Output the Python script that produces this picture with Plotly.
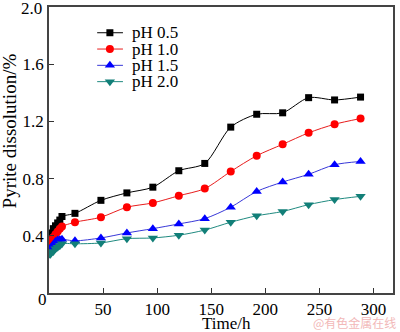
import plotly.graph_objects as go

# Leaching time (h) and pyrite dissolution (%) for each pH
time_h = [1, 2, 4, 6, 8, 10, 12, 24, 48, 72, 96, 120, 144, 168, 192, 216, 240, 264, 288]
ph_05 = [0.40, 0.42, 0.45, 0.47, 0.49, 0.51, 0.535, 0.557, 0.648, 0.70, 0.74, 0.855, 0.906, 1.16, 1.25, 1.26, 1.366, 1.35, 1.37]
ph_10 = [0.36, 0.37, 0.39, 0.41, 0.43, 0.45, 0.465, 0.495, 0.53, 0.60, 0.63, 0.68, 0.73, 0.85, 0.96, 1.04, 1.12, 1.18, 1.22]
ph_15 = [0.31, 0.32, 0.34, 0.36, 0.37, 0.375, 0.376, 0.365, 0.385, 0.42, 0.45, 0.483, 0.52, 0.60, 0.71, 0.776, 0.83, 0.897, 0.92]
ph_20 = [0.27, 0.28, 0.29, 0.31, 0.32, 0.33, 0.345, 0.344, 0.35, 0.38, 0.385, 0.404, 0.44, 0.495, 0.54, 0.57, 0.618, 0.653, 0.676]

series_names = ["pH 0.5", "pH 1.0", "pH 1.5", "pH 2.0"]
x_ticks = [50, 100, 150, 200, 250, 300]
y_ticks = [0.4, 0.8, 1.2, 1.6]
y_tick_text = ["0.4", "0.8", "1.2", "1.6"]
y_top_label = "2.0"

FONT = "Liberation Serif"

styles = [
    dict(line="#000000", marker="#000000", symbol="square", size=7),
    dict(line="#e81c1c", marker="#ff0000", symbol="circle", size=8),
    dict(line="#3838d8", marker="#0000ff", symbol="triangle-up", size=9),
    dict(line="#1f8a80", marker="#127f78", symbol="triangle-down", size=9),
]

# legend key layout, in fractions of the plot area
key_x0, key_xm, key_x1, key_text_x = 0.14, 0.177, 0.215, 0.236
key_rows = [0.910, 0.853, 0.796, 0.739]

fig = go.Figure()
for name, ys, st in zip(series_names, [ph_05, ph_10, ph_15, ph_20], styles):
    fig.add_trace(go.Scatter(
        x=time_h, y=ys, name=name, mode="lines+markers", showlegend=False,
        line=dict(color=st["line"], width=1, shape="spline", smoothing=0.8),
        marker=dict(color=st["marker"], symbol=st["symbol"], size=st["size"],
                    line=dict(width=0)),
    ))

# hand-built legend keys on an overlay axis spanning the plot area
for name, row, st in zip(series_names, key_rows, styles):
    fig.add_trace(go.Scatter(
        x=[key_x0, key_x1], y=[row, row], mode="lines", xaxis="x2", yaxis="y2",
        line=dict(color=st["line"], width=1), showlegend=False, hoverinfo="skip",
    ))
    fig.add_trace(go.Scatter(
        x=[key_xm], y=[row], mode="markers", xaxis="x2", yaxis="y2",
        marker=dict(color=st["marker"], symbol=st["symbol"], size=st["size"],
                    line=dict(width=0)),
        showlegend=False, hoverinfo="skip",
    ))

annotations = [
    dict(text=name, xref="x2", yref="y2", x=key_text_x, y=row, xanchor="left",
         yanchor="middle", showarrow=False, font=dict(family=FONT, size=17))
    for name, row in zip(series_names, key_rows)
]
annotations += [
    dict(text=y_top_label, xref="paper", yref="paper", x=0, y=1,
         xanchor="right", yanchor="middle", xshift=-5, yshift=-1,
         showarrow=False, font=dict(family=FONT, size=17)),
    dict(text="0", xref="paper", yref="paper", x=0, y=0, xanchor="center",
         yanchor="middle", xshift=-7, yshift=-6, showarrow=False,
         font=dict(family=FONT, size=17)),
    dict(text="Time/h", xref="paper", yref="paper", x=0.515, y=0,
         xanchor="center", yanchor="middle", yshift=-30, showarrow=False,
         font=dict(family=FONT, size=17)),
    dict(text="Pyrite dissolution/%", xref="paper", yref="paper",
         x=0, y=0.565, xanchor="center", yanchor="middle", xshift=-40,
         textangle=-90, showarrow=False, font=dict(family=FONT, size=19)),
    dict(text="@有色金属在线", xref="paper", yref="paper", x=1.0, y=0,
         xanchor="right", yanchor="middle", xshift=5, yshift=-29,
         showarrow=False,
         font=dict(family="Noto Sans CJK SC", size=12, color="#f2b8b8")),
]

fig.update_layout(
    width=400, height=332,
    margin=dict(l=49, r=7, t=5, b=39),
    paper_bgcolor="white", plot_bgcolor="white",
    font=dict(family=FONT, size=17, color="black"),
    showlegend=False,
    xaxis=dict(range=[0, 318], tickvals=x_ticks, ticks="inside", ticklen=5,
               tickwidth=1, tickcolor="#333", showline=True, linecolor="#444",
               linewidth=1.5, mirror=True, showgrid=False, zeroline=False,
               tickfont=dict(family=FONT, size=17)),
    yaxis=dict(range=[0, 2.0], tickvals=y_ticks, ticktext=y_tick_text,
               ticks="inside", ticklen=5, tickwidth=1, tickcolor="#333",
               showline=True, linecolor="#444", linewidth=1.5, mirror=True,
               showgrid=False, zeroline=False,
               tickfont=dict(family=FONT, size=17)),
    xaxis2=dict(overlaying="x", range=[0, 1], visible=False, fixedrange=True),
    yaxis2=dict(overlaying="y", range=[0, 1], visible=False, fixedrange=True),
    annotations=annotations,
)

fig.write_html("out.html")
